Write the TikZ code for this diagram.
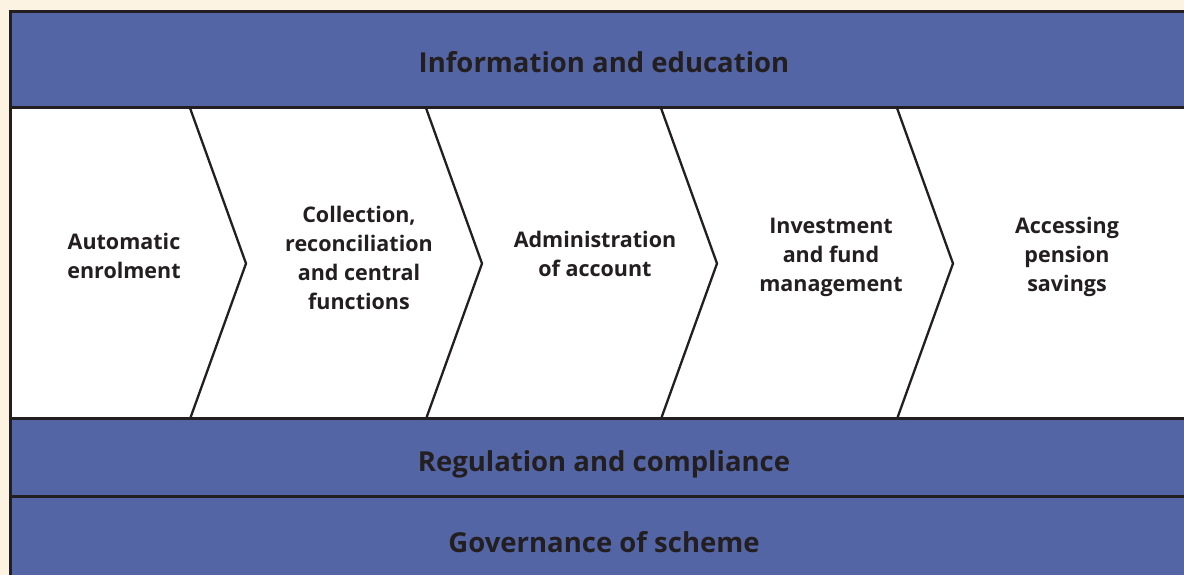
\documentclass[tikz,border=0pt]{standalone}
\usepackage{fontspec}
\setmainfont{Open Sans}
\usetikzlibrary{positioning}
\definecolor{bandblue}{RGB}{84,101,166}
\definecolor{cream}{RGB}{253,243,227}
\definecolor{ink}{RGB}{35,31,32}

\begin{document}
\begin{tikzpicture}[x=1pt,y=1pt,
    band/.style={font=\fontsize{27.5}{34}\selectfont\bfseries, text=ink},
    stage/.style={font=\fontsize{21.5}{29}\selectfont\bfseries, text=ink, align=center, inner sep=0pt},
    frame/.style={draw=ink, line width=3pt},
    edge/.style={draw=ink, line width=2.3pt}]
    \useasboundingbox (0,0) rectangle (1184,575);
    \clip (0,0) rectangle (1184,575);
    \fill[cream] (0,0) rectangle (1184,575);

    % bands
    \fill[bandblue] (10,467) rectangle (1190,563);
    \fill[white] (10,156) rectangle (1190,467);
    \fill[bandblue] (10,-5) rectangle (1190,156);
    \draw[frame] (1190,563) -- (10,563) -- (10,-5);
    \draw[frame] (10,467) -- (1190,467);
    \draw[frame] (10,156) -- (1190,156);
    \draw[frame] (10,78) -- (1190,78);

    % chevrons
    \foreach \x in {190,426,661,897}
        \draw[edge] (\x,467) -- (\x+56,311.5) -- (\x,156);

    \node[band] (info) at (604,513) {Information and education};
    \node[band] (regul) at (604,111) {Regulation and compliance};
    \node[band] (gov) at (604,33) {Governance of scheme};

    \node[stage] (auto) at (124,319) {Automatic\\enrolment};
    \node[stage] (collect) at (359,317) {Collection,\\reconciliation\\and central\\functions};
    \node[stage] (admin) at (595,321) {Administration\\of account};
    \node[stage] (invest) at (831,318) {Investment\\and fund\\management};
    \node[stage] (access) at (1067,318) {Accessing\\pension\\savings};
\end{tikzpicture}
\end{document}
